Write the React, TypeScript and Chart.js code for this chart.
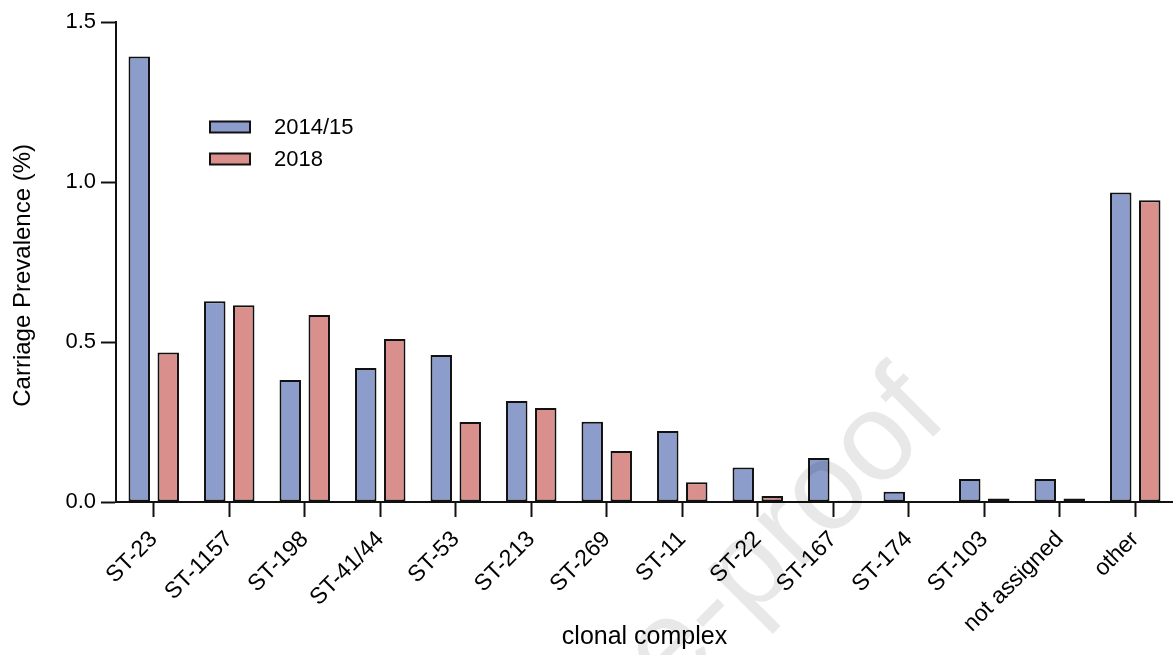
import { useEffect, useRef } from 'react';
import { Chart, registerables } from 'chart.js';

Chart.register(...registerables);

const categories = [
  'ST-23', 'ST-1157', 'ST-198', 'ST-41/44', 'ST-53', 'ST-213', 'ST-269',
  'ST-11', 'ST-22', 'ST-167', 'ST-174', 'ST-103', 'not assigned', 'other',
];
const series2014 = [1.392, 0.627, 0.381, 0.419, 0.459, 0.316, 0.251, 0.222, 0.108, 0.1375, 0.032, 0.072, 0.072, 0.967];
const series2018 = [0.467, 0.615, 0.584, 0.509, 0.25, 0.294, 0.159, 0.0615, 0.019, 0.004, 0, 0.011, 0.011, 0.943];
const seriesNames = ['2014/15', '2018'];
const yTicks = [0, 0.5, 1.0, 1.5];

const FONT = '"Liberation Sans", Arial, Helvetica, sans-serif';
const BLUE = 'rgb(140, 157, 204)';
const RED = 'rgb(217, 144, 141)';

const legendPlugin = {
  id: 'customLegend',
  afterDraw(chart: any) {
    const ctx = chart.ctx;
    ctx.save();
    chart.data.datasets.forEach((ds: any, i: number) => {
      const y = 127 + i * 32;
      ctx.fillStyle = ds.backgroundColor;
      ctx.fillRect(210, y - 5.5, 40, 11);
      ctx.lineWidth = 2;
      ctx.strokeStyle = '#111';
      ctx.strokeRect(210, y - 5.5, 40, 11);
      ctx.fillStyle = '#000';
      ctx.font = `22px ${FONT}`;
      ctx.textAlign = 'left';
      ctx.textBaseline = 'middle';
      ctx.fillText(ds.label, 274, y + 1);
    });
    ctx.restore();
  },
};

const watermarkPlugin = {
  id: 'watermark',
  afterDraw(chart: any) {
    const ctx = chart.ctx;
    ctx.save();
    ctx.translate(950, 420);
    ctx.rotate(-Math.PI / 4);
    ctx.font = `125px ${FONT}`;
    ctx.fillStyle = 'rgba(0,0,0,0.09)';
    ctx.textAlign = 'right';
    ctx.textBaseline = 'alphabetic';
    ctx.fillText('Journal Pre-proof', 0, 0);
    ctx.restore();
  },
};

export default function App() {
  const ref = useRef<HTMLCanvasElement | null>(null);

  useEffect(() => {
    if (!ref.current) return;
    const chart = new Chart(ref.current, {
      type: 'bar',
      data: {
        labels: categories,
        datasets: [
          {
            label: seriesNames[0],
            data: series2014,
            backgroundColor: BLUE,
            borderColor: '#111',
            borderWidth: 2,
            borderSkipped: false,
            categoryPercentage: 0.768,
            barPercentage: 0.74,
          },
          {
            label: seriesNames[1],
            data: series2018,
            backgroundColor: RED,
            borderColor: '#111',
            borderWidth: 2,
            borderSkipped: false,
            categoryPercentage: 0.768,
            barPercentage: 0.74,
          },
        ],
      },
      options: {
        responsive: false,
        animation: false,
        layout: { padding: { top: 22, right: 0, bottom: 0, left: 0 } },
        plugins: {
          legend: { display: false },
          tooltip: { enabled: false },
        },
        scales: {
          x: {
            offset: true,
            grid: {
              display: true,
              drawOnChartArea: false,
              drawTicks: true,
              tickLength: 15,
              tickWidth: 2,
              tickColor: '#111',
              offset: false,
            },
            border: { display: true, color: '#111', width: 2 },
            ticks: {
              color: '#000',
              font: { family: FONT, size: 23 },
              minRotation: 45,
              maxRotation: 45,
              padding: 9,
              autoSkip: false,
            },
            title: {
              display: true,
              text: 'clonal complex',
              color: '#000',
              font: { family: FONT, size: 25 },
              padding: { top: 0, bottom: 3 },
            },
            afterFit: (s: any) => {
              s.height = 153;
            },
          },
          y: {
            min: 0,
            max: 1.5,
            afterBuildTicks: (s: any) => {
              s.ticks = yTicks.map((v) => ({ value: v }));
            },
            grid: {
              display: true,
              drawOnChartArea: false,
              drawTicks: true,
              tickLength: 15,
              tickWidth: 2,
              tickColor: '#111',
            },
            border: { display: true, color: '#111', width: 2 },
            ticks: {
              color: '#000',
              font: { family: FONT, size: 22 },
              padding: 5,
              callback: (v: any) => Number(v).toFixed(1),
            },
            title: {
              display: true,
              text: 'Carriage Prevalence (%)\u00A0\u00A0\u00A0\u00A0',
              color: '#000',
              font: { family: FONT, size: 24 },
              padding: { top: 9, bottom: 0 },
            },
            afterFit: (s: any) => {
              s.width = 116;
            },
          },
        },
      },
      plugins: [legendPlugin, watermarkPlugin],
    });
    return () => chart.destroy();
  }, []);

  return (
    <div style={{ position: 'absolute', left: 0, top: 0, width: 1173, height: 655, background: '#fff' }}>
      <canvas ref={ref} width={1173} height={655} style={{ display: 'block' }} />
    </div>
  );
}
